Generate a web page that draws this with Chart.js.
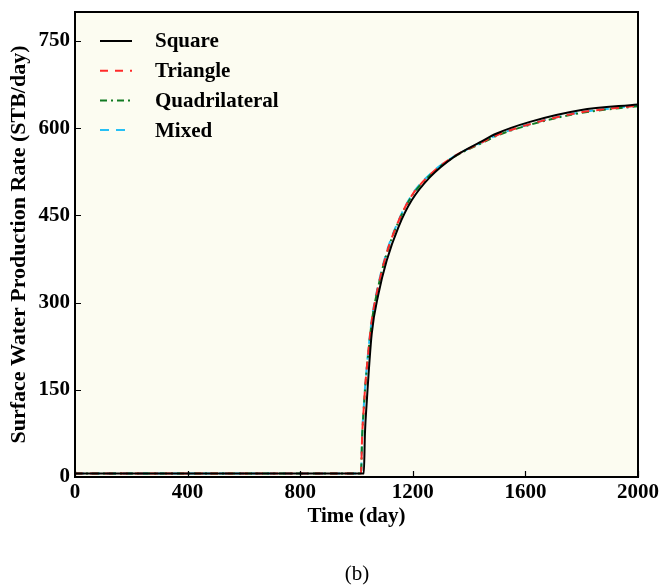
<!DOCTYPE html>
<html>
<head>
<meta charset="utf-8">
<script src="https://cdn.jsdelivr.net/npm/chart.js@4.4.1/dist/chart.umd.min.js"></script>
<style>
  html, body { margin: 0; padding: 0; background: #fff; }
  #wrap { width: 662px; height: 588px; }
</style>
</head>
<body>
<div id="wrap"><canvas id="c" width="662" height="588"></canvas></div>
<script>
// Data (time in days, rate in STB/day)
const timeDays = [0, 1016, 1020, 1026, 1030, 1036, 1054, 1078, 1107, 1149, 1196, 1261, 1344, 1439, 1498, 1616, 1794, 2000];
const squareRate = [6, 6, 6, 6, 75, 126, 246, 315, 372, 430, 476, 516, 550, 576, 591, 611, 631, 641];
const triangleRate = [6, 6, 70, 120, 150, 185, 268, 330, 385, 440, 484, 520, 551, 574, 588, 607, 627, 639];
const quadRate = [6, 6, 68, 118, 148, 183, 266, 329, 384, 439, 483, 519, 550, 573, 587, 606, 626, 638];
const mixedRate = [6, 6, 72, 122, 152, 187, 270, 332, 387, 441, 485, 521, 551, 574, 588, 607, 627, 639];
const xTicks = [0, 400, 800, 1200, 1600, 2000];
const yTicks = [0, 150, 300, 450, 600, 750];

const FONT = "'Liberation Serif', 'Times New Roman', serif";
const pts = (ys) => timeDays.map((t, i) => ({x: t, y: ys[i]}));

function ds(label, ys, color, dash) {
  return {
    label, data: pts(ys), borderColor: color, backgroundColor: color,
    borderWidth: 2, borderDash: dash, pointRadius: 0,
    cubicInterpolationMode: 'monotone', fill: false
  };
}

// fond crème + cadre + ticks intérieurs + légende + "(b)"
const decor = {
  id: 'decor',
  beforeDraw(chart) {
    const {ctx, chartArea: a} = chart;
    ctx.save();
    ctx.fillStyle = '#fcfcf1';
    ctx.fillRect(a.left, a.top, a.right - a.left, a.bottom - a.top);
    ctx.restore();
  },
  afterDraw(chart) {
    const {ctx, chartArea: a, scales} = chart;
    ctx.save();
    ctx.strokeStyle = '#000';
    ctx.lineWidth = 2;
    ctx.strokeRect(a.left, a.top, a.right - a.left, a.bottom - a.top);
    ctx.lineWidth = 1.2;
    ctx.beginPath();
    scales.x.ticks.forEach(t => {
      const px = Math.round(scales.x.getPixelForValue(t.value)) + 0.5;
      ctx.moveTo(px, a.bottom); ctx.lineTo(px, a.bottom - 6);
    });
    scales.y.ticks.forEach(t => {
      const py = Math.round(scales.y.getPixelForValue(t.value)) + 0.5;
      ctx.moveTo(a.left, py); ctx.lineTo(a.left + 6, py);
    });
    ctx.stroke();

    // légende
    ctx.font = 'bold 21px ' + FONT;
    ctx.textBaseline = 'middle';
    chart.data.datasets.forEach((d, i) => {
      const y = 41 + i * 29.7;
      ctx.strokeStyle = d.borderColor;
      ctx.lineWidth = 2;
      ctx.setLineDash(d.borderDash || []);
      ctx.beginPath();
      ctx.moveTo(100, y); ctx.lineTo(132, y);
      ctx.stroke();
      ctx.setLineDash([]);
      ctx.fillStyle = '#000';
      ctx.fillText(d.label, 155, y + 1);
    });

    ctx.font = '21px ' + FONT;
    ctx.textAlign = 'center';
    ctx.fillText('(b)', 357, 574);
    ctx.restore();
  }
};

const tickFont = {family: FONT, size: 21, weight: 'bold'};

new Chart(document.getElementById('c'), {
  type: 'line',
  data: {
    datasets: [
      ds('Square', squareRate, '#000000', []),
      ds('Triangle', triangleRate, '#ff2a2a', [8, 7]),
      ds('Quadrilateral', quadRate, '#117a22', [7, 4, 2, 4]),
      ds('Mixed', mixedRate, '#26c0f5', [9, 7])
    ]
  },
  options: {
    responsive: false,
    animation: false,
    layout: {padding: {top: 12, right: 24, left: 0, bottom: 0}},
    plugins: {legend: {display: false}, tooltip: {enabled: false}},
    scales: {
      x: {
        type: 'linear', min: 0, max: 2000,
        afterBuildTicks: s => { s.ticks = xTicks.map(v => ({value: v})); },
        afterFit: s => { s.height = 111; s.paddingLeft = 0; s.paddingRight = 0; },
        grid: {display: false, drawTicks: false, tickLength: 0},
        border: {display: false},
        ticks: {color: '#000', padding: 3, maxRotation: 0, autoSkip: false,
          callback: v => String(v), font: tickFont},
        title: {display: true, text: 'Time (day)', color: '#000',
          padding: {top: 0, bottom: 59}, font: tickFont}
      },
      y: {
        type: 'linear', min: 0, max: 800,
        afterBuildTicks: s => { s.ticks = yTicks.map(v => ({value: v})); },
        afterFit: s => { s.width = 75; s.paddingTop = 0; s.paddingBottom = 0; },
        grid: {display: false, drawTicks: false, tickLength: 0},
        border: {display: false},
        ticks: {color: '#000', padding: 5, autoSkip: false,
          callback: v => String(v), font: tickFont},
        title: {display: true, text: 'Surface Water Production Rate (STB/day)', color: '#000',
          padding: {top: 6, bottom: 0},
          font: {family: FONT, size: 22, weight: 'bold'}}
      }
    }
  },
  plugins: [decor]
});
</script>
</body>
</html>
